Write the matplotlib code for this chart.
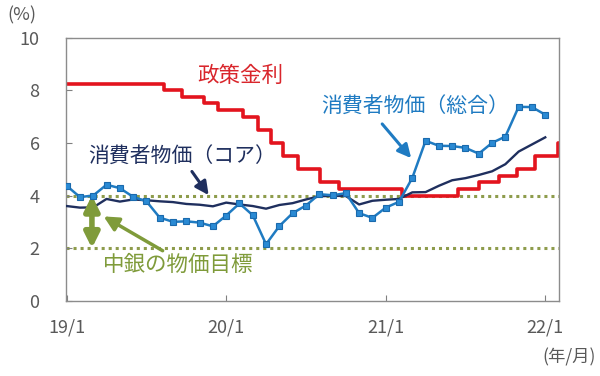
import matplotlib
matplotlib.use("Agg")
import matplotlib.pyplot as plt

plt.rcParams['font.family'] = ['Noto Sans CJK JP', 'DejaVu Sans']

# monthly data, index 0 = 2019/1
cpi = [4.37, 3.94, 4.00, 4.41, 4.28, 3.95, 3.78, 3.16, 3.00, 3.02, 2.97, 2.83,
       3.24, 3.70, 3.25, 2.15, 2.84, 3.33, 3.62, 4.05, 4.01, 4.09, 3.33, 3.15,
       3.54, 3.76, 4.67, 6.08, 5.89, 5.88, 5.81, 5.59, 6.00, 6.24, 7.37, 7.36,
       7.07]
core = [3.60, 3.54, 3.55, 3.87, 3.77, 3.85, 3.82, 3.78, 3.75, 3.68, 3.65, 3.59,
        3.73, 3.66, 3.60, 3.50, 3.64, 3.71, 3.85, 3.97, 3.99, 3.98, 3.66, 3.80,
        3.84, 3.87, 4.12, 4.13, 4.37, 4.58, 4.66, 4.78, 4.92, 5.19, 5.67, 5.94,
        6.21]
months = list(range(len(cpi)))

# policy rate: month position where each level starts
rate_x = [0, 7.3, 8.67, 10.3, 11.4, 13.3, 14.4, 15.4, 16.3, 17.4, 19.05, 20.5,
          25.2, 29.4, 31.05, 32.55, 33.9, 35.2, 36.95, 37.05]
rate_v = [8.25, 8.00, 7.75, 7.50, 7.25, 7.00, 6.50, 6.00, 5.50, 5.00, 4.50, 4.25,
          4.00, 4.25, 4.50, 4.75, 5.00, 5.50, 6.00, 6.00]

target = [4, 2]
xticks = [0, 12, 24, 36]
xlabels = ['19/1', '20/1', '21/1', '22/1']

RED = '#e3141e'
BLUE = '#1f7bc2'
NAVY = '#1f2f5e'
GREEN = '#7f9b3a'
GREY = '#595959'

fig = plt.figure(figsize=(6, 3.76), dpi=100)
ax = fig.add_axes([0.11, 0.2, 0.822, 0.7])

for t in target:
    ax.axhline(t, color='#8e9c4c', lw=2.2, ls=(0, (1, 1.3)), zorder=1)

ax.step(rate_x, rate_v, where='post', color=RED, lw=2.6, zorder=2)
ax.plot(months, core, color=NAVY, lw=1.7, zorder=3)
ax.plot(months, cpi, color=BLUE, lw=1.8, marker='s', ms=5,
        mfc='#2a8ad4', mec='#1a6aad', mew=0.8, zorder=4)

ax.set_xlim(-0.05, 37.05)
ax.set_ylim(0, 10)
ax.set_yticks(range(0, 11, 2))
ax.set_xticks(xticks)
ax.set_xticklabels(xlabels)
ax.tick_params(axis='both', direction='in', length=4, color='#808080',
               labelcolor=GREY, labelsize=13)
ax.tick_params(axis='y', pad=19)
ax.tick_params(axis='x', pad=13)
for s in ax.spines.values():
    s.set_color('#8c8c8c')
    s.set_linewidth(1)

# labels
ax.text(13.05, 8.53, '政策金利', color='#d9262c', fontsize=15.5, ha='center', va='center')
ax.text(26.2, 7.37, '消費者物価（総合）', color=BLUE, fontsize=15, ha='center', va='center')
ax.text(8.68, 5.47, '消費者物価（コア）', color=NAVY, fontsize=15, ha='center', va='center')
ax.text(8.4, 1.36, '中銀の物価目標', color=GREEN, fontsize=15.5, ha='center', va='center')

ax.annotate('', xy=(26.05, 5.34), xytext=(23.6, 6.8),
            arrowprops=dict(arrowstyle='-|>', color=BLUE, lw=2.2, mutation_scale=20))
ax.annotate('', xy=(10.8, 3.93), xytext=(9.3, 5.0),
            arrowprops=dict(arrowstyle='-|>', color=NAVY, lw=2.2, mutation_scale=20))
ax.annotate('', xy=(1.9, 4.0), xytext=(1.9, 2.0),
            arrowprops=dict(arrowstyle='<|-|>', color=GREEN, lw=4, mutation_scale=22,
                            shrinkA=0, shrinkB=0))
ax.annotate('', xy=(2.6, 3.26), xytext=(7.4, 1.85),
            arrowprops=dict(arrowstyle='-|>', color=GREEN, lw=2.5, mutation_scale=22))

fig.text(0.037, 0.96, '(%)', color=GREY, fontsize=13, ha='center', va='center')
fig.text(0.993, 0.05, '(年/月)', color=GREY, fontsize=12.5, ha='right', va='center')

fig.savefig('out.png', dpi=100)
